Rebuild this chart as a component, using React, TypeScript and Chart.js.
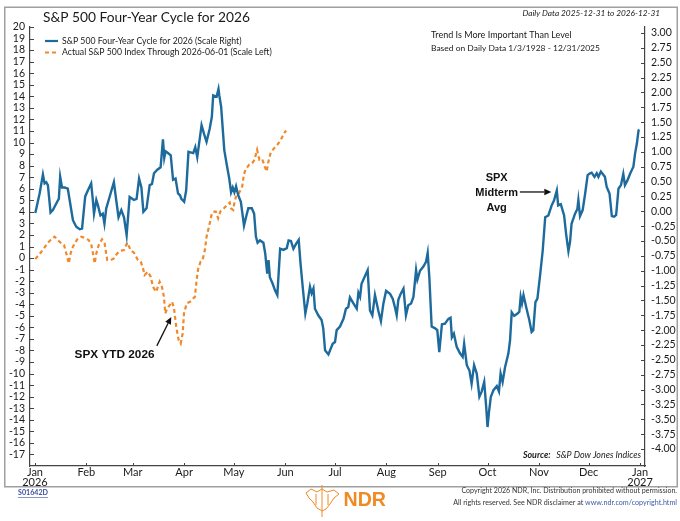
import React, { useEffect, useRef } from 'react';
import { Chart, registerables } from 'chart.js';

Chart.register(...registerables);

// ---------------- data ----------------
// day of year 2026 (0 = Jan 1) for the four-year cycle (right scale)
const cycleDays = [
  0.2, 2.8, 4.8, 5.8, 6.8, 7.8, 9.4, 10.8, 13.4, 14.4, 15.2, 16.3, 17.9, 19.8, 22.9, 24.9, 27.0, 28.4, 30.3, 31.9,
  33.9, 34.9, 35.6, 37.0, 38.0, 39.5, 40.9, 41.9, 43.0, 45.0, 47.6, 49.0, 50.4, 52.1, 53.7, 55.3, 57.1, 59.7, 61.3, 62.8,
  64.2, 65.4, 67.3, 69.2, 70.6, 71.8, 73.8, 75.8, 77.2, 78.0, 78.8, 80.2, 81.9, 83.3, 84.8, 86.3, 87.5, 88.3, 90.0, 91.2,
  92.6, 95.5, 96.7, 97.9, 100.5, 101.9, 103.5, 105.4, 106.7, 107.5, 109.6, 110.7, 111.2, 112.3, 114.2, 115.6, 117.2, 118.3, 119.3, 120.3,
  121.3, 122.6, 124.2, 126.1, 127.3, 128.7, 130.8, 132.2, 133.3, 134.3, 135.7, 137.8, 138.9, 140.1, 140.9, 141.7, 143.4, 144.8, 146.2, 147.9,
  149.9, 151.9, 153.0, 154.4, 155.9, 157.5, 159.1, 160.2, 161.5, 163.1, 164.3, 165.9, 166.9, 168.0, 168.9, 170.9, 172.9, 173.9, 175.0, 177.0,
  179.6, 181.0, 182.0, 184.0, 186.1, 187.6, 189.0, 190.0, 192.1, 194.1, 195.1, 196.1, 197.0, 199.1, 200.7, 202.1, 203.5, 205.1, 207.1, 208.7,
  210.2, 211.8, 214.2, 215.8, 217.2, 218.2, 219.2, 220.6, 222.3, 223.8, 225.2, 226.9, 228.3, 229.9, 230.7, 232.3, 234.3, 235.9, 236.9, 237.9,
  239.3, 241.4, 242.7, 243.9, 245.5, 247.3, 249.4, 250.7, 251.5, 252.7, 254.4, 256.4, 258.0, 258.9, 260.5, 262.1, 263.4, 264.9, 266.5, 268.1,
  269.5, 271.0, 272.2, 273.0, 273.8, 275.0, 276.6, 278.6, 279.9, 280.9, 282.1, 283.6, 285.6, 286.6, 287.6, 289.1, 291.1, 292.2, 293.0, 293.8,
  294.7, 296.3, 298.2, 299.6, 300.6, 301.9, 303.1, 304.7, 306.3, 307.8, 309.7, 311.7, 313.1, 314.8, 315.6, 317.2, 319.2, 320.4, 321.8, 322.8,
  323.7, 325.8, 327.2, 327.8, 328.8, 330.4, 331.9, 333.4, 334.8, 335.8, 337.5, 338.9, 339.9, 341.4, 343.8, 344.9, 346.6, 348.0, 349.4, 350.6,
  352.0, 353.5, 354.9, 355.9, 357.4, 359.0, 361.0, 362.0, 363.1, 364.1, 364.7,
];
const cycleValues = [
  -0.03, 0.30, 0.62, 0.47, 0.49, 0.44, -0.02, 0.02, 0.16, 0.21, 0.58, 0.40, 0.40, 0.38, -0.15, -0.26, -0.30, -0.29, 0.25, 0.35,
  0.47, 0.19, -0.04, 0.19, 0.10, -0.07, -0.04, -0.21, 0.05, 0.24, 0.49, 0.19, -0.10, 0.02, -0.10, -0.40, 0.24, 0.19, 0.21, 0.55,
  0.40, -0.01, 0.05, 0.44, 0.46, 0.64, 0.70, 0.74, 1.21, 0.90, 1.01, 0.98, 0.94, 0.53, 0.55, 0.30, 0.27, 0.21, 0.16, 0.35,
  1.00, 0.98, 1.08, 0.91, 1.45, 1.31, 1.17, 1.39, 1.59, 1.95, 1.93, 2.06, 1.95, 1.76, 1.03, 0.80, 0.55, 0.32, 0.40, 0.32,
  0.42, 0.27, 0.16, -0.24, -0.10, 0.05, 0.05, -0.04, -0.43, -0.53, -0.49, -0.53, -0.71, -1.05, -0.82, -1.11, -1.22, -1.33, -1.41, -0.63,
  -0.65, -0.62, -0.49, -0.50, -0.63, -0.55, -0.48, -0.88, -1.27, -1.72, -1.55, -1.27, -1.38, -1.30, -1.64, -1.75, -1.83, -1.97, -2.34, -2.41,
  -2.23, -2.20, -2.00, -1.94, -1.81, -1.64, -1.61, -1.45, -1.55, -1.64, -1.37, -1.44, -1.22, -1.09, -0.99, -1.67, -1.75, -1.41, -1.67, -1.85,
  -1.55, -1.34, -1.39, -1.47, -1.62, -1.75, -1.49, -1.39, -1.30, -1.75, -1.58, -1.55, -1.44, -0.99, -1.15, -1.00, -0.93, -0.85, -0.70, -1.11,
  -1.94, -1.97, -2.00, -2.37, -1.90, -1.89, -1.81, -1.79, -2.12, -2.06, -2.28, -2.39, -2.45, -2.23, -2.59, -2.68, -2.90, -2.59, -2.73, -3.12,
  -3.03, -2.87, -3.29, -3.63, -3.40, -3.12, -3.01, -2.94, -3.03, -2.73, -2.87, -2.62, -2.39, -2.17, -1.70, -1.76, -1.72, -1.69, -1.44, -1.55,
  -1.41, -1.61, -1.83, -2.03, -2.00, -1.53, -1.47, -1.08, -0.66, -0.10, -0.07, 0.10, 0.18, 0.35, 0.10, 0.12, -0.07, -0.38, -0.67, -0.51,
  -0.21, -0.04, 0.04, 0.19, -0.08, 0.02, 0.30, 0.61, 0.64, 0.65, 0.58, 0.64, 0.58, 0.67, 0.58, 0.41, 0.30, -0.08, -0.09, -0.06,
  0.38, 0.44, 0.63, 0.44, 0.52, 0.63, 0.75, 0.97, 1.14, 1.36, 1.37,
];

// actual S&P 500 YTD % (left scale)
const ytdDays = [
  0.2, 2.8, 5.4, 7.4, 9.4, 11.8, 13.8, 15.9, 17.5, 18.9, 20.4, 21.5, 22.9, 25.5, 28.0, 30.3, 32.4, 34.0, 35.0, 36.0,
  37.0, 38.5, 40.4, 42.0, 43.6, 45.7, 47.6, 49.6, 51.7, 53.7, 55.7, 57.7, 59.7, 62.1, 63.8, 65.2, 66.1, 68.1, 69.8, 71.2,
  73.1, 75.2, 76.6, 77.8, 78.6, 79.8, 81.3, 82.7, 83.9, 85.2, 86.7, 87.9, 89.1, 89.9, 91.5, 93.5, 96.5, 97.5, 98.5, 99.9,
  101.1, 102.5, 103.5, 105.0, 106.5, 107.5, 109.1, 110.5, 111.9, 114.0, 116.0, 117.5, 118.3, 119.6, 120.4, 121.6, 123.0, 125.0, 126.0, 126.9,
  129.1, 131.1, 132.4, 134.0, 135.4, 137.1, 138.6, 139.8, 140.6, 142.2, 144.3, 146.2, 148.3, 150.3, 151.5,
];
const ytdValues = [
  -0.09, 0.35, 0.84, 1.27, 1.56, 1.85, 1.56, 1.27, 1.13, 0.40, -0.46, 0.40, 0.98, 1.62, 1.85, 1.71, 1.56, 1.13, 0.40, -0.46,
  0.40, 1.13, 1.62, 1.27, -0.17, -0.17, -0.03, 0.40, 0.64, 0.69, 1.33, 0.69, 0.46, -0.17, -0.32, -0.90, -1.47, -1.18, -1.62, -2.49,
  -2.92, -2.05, -2.49, -3.35, -4.80, -4.36, -4.08, -3.79, -4.36, -5.96, -7.11, -7.40, -6.53, -4.80, -3.93, -3.79, -3.35, -1.91, -0.90, -0.32,
  -0.17, 0.69, 1.85, 2.72, 3.73, 4.02, 4.02, 3.44, 4.05, 4.31, 4.60, 4.80, 4.31, 4.16, 4.88, 5.46, 5.61, 6.18, 7.20, 7.63,
  8.07, 8.21, 8.50, 9.37, 8.50, 8.56, 7.92, 7.49, 8.21, 9.13, 9.51, 9.80, 10.23, 10.81, 11.04,
];

// axis ticks
const monthTicks = [0, 31, 59, 90, 120, 151, 181, 212, 243, 273, 304, 334, 365];
const monthLabels: (string | string[])[] = [
  ['Jan', '2026'], 'Feb', 'Mar', 'Apr', 'May', 'Jun', 'Jul', 'Aug', 'Sep', 'Oct', 'Nov', 'Dec', ['Jan', '2027'],
];
const leftTicks = [
  20, 19, 18, 17, 16, 15, 14, 13, 12, 11, 10, 9, 8, 7, 6, 5, 4, 3, 2, 1, 0,
  -1, -2, -3, -4, -5, -6, -7, -8, -9, -10, -11, -12, -13, -14, -15, -16, -17,
];
const rightTicks = [
  3, 2.75, 2.5, 2.25, 2, 1.75, 1.5, 1.25, 1, 0.75, 0.5, 0.25, 0,
  -0.25, -0.5, -0.75, -1, -1.25, -1.5, -1.75, -2, -2.25, -2.5, -2.75, -3, -3.25, -3.5, -3.75, -4,
];

const seriesLabels = [
  'S&P 500 Four-Year Cycle for 2026 (Scale Right)',
  'Actual S&P 500 Index Through 2026-06-01 (Scale Left)',
];

// ---------------- style ----------------
const BLUE = '#1d6a9d';
const ORANGE = '#f0892b';
const AXIS = '#444';
const TXT = '#1a1a1a';
const FONT = 'Lato, "Noto Sans", sans-serif';
const BOLD = '"Liberation Sans", Arial, sans-serif';

// draw text scaled so that it spans the given width
function fitText(
  ctx: CanvasRenderingContext2D,
  text: string,
  x: number,
  y: number,
  width: number,
  style: string,
  family: string,
  align: CanvasTextAlign = 'left',
) {
  ctx.font = `${style} 20px ${family}`;
  const w = ctx.measureText(text).width;
  const size = (20 * width) / w;
  ctx.font = `${style} ${size}px ${family}`;
  ctx.textAlign = align;
  ctx.fillText(text, x, y);
  return size;
}

function arrow(ctx: CanvasRenderingContext2D, x1: number, y1: number, x2: number, y2: number) {
  const ang = Math.atan2(y2 - y1, x2 - x1);
  const hl = 7, hw = 3.2;
  const bx = x2 - hl * Math.cos(ang), by = y2 - hl * Math.sin(ang);
  ctx.beginPath();
  ctx.moveTo(x1, y1);
  ctx.lineTo(bx, by);
  ctx.lineWidth = 1.3;
  ctx.strokeStyle = '#111';
  ctx.stroke();
  ctx.beginPath();
  ctx.moveTo(x2, y2);
  ctx.lineTo(bx + hw * Math.sin(ang), by - hw * Math.cos(ang));
  ctx.lineTo(bx - hw * Math.sin(ang), by + hw * Math.cos(ang));
  ctx.closePath();
  ctx.fillStyle = '#111';
  ctx.fill();
}

const decoPlugin = {
  id: 'deco',
  beforeDraw(chart: any) {
    const ctx = chart.ctx;
    ctx.save();
    ctx.fillStyle = '#fff';
    ctx.fillRect(0, 0, chart.width, chart.height);
    ctx.restore();
  },
  afterDraw(chart: any) {
    const { ctx, chartArea: a, scales } = chart;
    const sx = scales.x, yL = scales.yL, yR = scales.yR;
    ctx.save();

    // outer frame
    ctx.strokeStyle = '#a0a0a0';
    ctx.lineWidth = 1.5;
    ctx.strokeRect(4.75, 7.25, 672.5, 479.5);

    // inward tick marks
    ctx.strokeStyle = AXIS;
    ctx.lineWidth = 1;
    ctx.beginPath();
    yL.ticks.forEach((t: any) => {
      const y = Math.round(yL.getPixelForValue(t.value)) + 0.5;
      ctx.moveTo(a.left, y);
      ctx.lineTo(a.left + 4, y);
    });
    yR.ticks.forEach((t: any) => {
      const y = Math.round(yR.getPixelForValue(t.value)) + 0.5;
      ctx.moveTo(a.right - 4, y);
      ctx.lineTo(a.right, y);
    });
    sx.ticks.forEach((t: any) => {
      const x = Math.round(sx.getPixelForValue(t.value)) + 0.5;
      ctx.moveTo(x, a.bottom);
      ctx.lineTo(x, a.bottom - 3);
    });
    ctx.stroke();

    // title
    ctx.fillStyle = TXT;
    ctx.textBaseline = 'middle';
    fitText(ctx, 'S&P 500 Four-Year Cycle for 2026', 43, 17.5, 207, '', FONT);
    fitText(ctx, 'Daily Data 2025-12-31 to 2026-12-31', 660, 13, 138, 'italic', FONT, 'right');

    // legend
    const lx = a.left + 15;
    ctx.lineWidth = 2.2;
    ctx.strokeStyle = chart.data.datasets[0].borderColor;
    ctx.beginPath();
    ctx.moveTo(lx, a.top + 14);
    ctx.lineTo(lx + 13, a.top + 14);
    ctx.stroke();
    ctx.strokeStyle = chart.data.datasets[1].borderColor;
    ctx.setLineDash([4, 3]);
    ctx.beginPath();
    ctx.moveTo(lx, a.top + 25.5);
    ctx.lineTo(lx + 13, a.top + 25.5);
    ctx.stroke();
    ctx.setLineDash([]);
    ctx.fillStyle = TXT;
    fitText(ctx, chart.data.datasets[0].label, lx + 17, a.top + 14, 180, '', FONT);
    fitText(ctx, chart.data.datasets[1].label, lx + 17, a.top + 25.5, 210, '', FONT);

    // notes top right
    fitText(ctx, 'Trend Is More Important Than Level', 431, a.top + 8, 141, '', FONT);
    fitText(ctx, 'Based on Daily Data 1/3/1928 - 12/31/2025', 431, a.top + 21, 169, '', FONT);

    // annotation: SPX YTD 2026
    ctx.fillStyle = '#111';
    fitText(ctx, 'SPX YTD 2026', sx.getPixelForValue(48), yL.getPixelForValue(-8.4), 80, 'bold', BOLD, 'center');
    arrow(ctx, sx.getPixelForValue(73.5), yL.getPixelForValue(-7.6), sx.getPixelForValue(82.2), yL.getPixelForValue(-5.1));

    // annotation: SPX Midterm Avg
    ctx.font = `bold 11px ${BOLD}`;
    ctx.textAlign = 'center';
    ctx.fillStyle = '#111';
    const mx = sx.getPixelForValue(278.5);
    ctx.fillText('SPX', mx, yR.getPixelForValue(0.555));
    ctx.fillText('Midterm', mx, yR.getPixelForValue(0.30));
    ctx.fillText('Avg', mx, yR.getPixelForValue(0.05));
    arrow(ctx, sx.getPixelForValue(292.5), yR.getPixelForValue(0.325), sx.getPixelForValue(311.5), yR.getPixelForValue(0.325));

    // source
    ctx.fillStyle = TXT;
    const srcRight = a.right - 4;
    const srcY = a.bottom - 11;
    const ss = fitText(ctx, 'S&P Dow Jones Indices', srcRight, srcY, 85, 'italic', FONT, 'right');
    ctx.font = `italic bold ${ss}px ${FONT}`;
    ctx.fillText('Source:', srcRight - 85 - 5.5, srcY);

    // footer
    ctx.fillStyle = '#3b4ea3';
    fitText(ctx, 'S01642D', 18, 493, 30, 'bold', FONT);
    ctx.fillRect(18, 497, 30, 0.6);

    ctx.fillStyle = '#333';
    fitText(ctx, 'Copyright 2026 NDR, Inc. Distribution prohibited without permission.', 677, 490.5, 216, '', FONT, 'right');
    const line2a = 'All rights reserved. See NDR disclaimer at ';
    const url = 'www.ndr.com/copyright.html';
    ctx.font = `20px ${FONT}`;
    const fs2 = (20 * 224) / ctx.measureText(line2a + url).width;
    ctx.font = `${fs2}px ${FONT}`;
    ctx.textAlign = 'right';
    ctx.fillStyle = '#3b5ba5';
    ctx.fillText(url, 677, 503);
    const uw = ctx.measureText(url).width;
    ctx.fillStyle = '#333';
    ctx.fillText(line2a, 677 - uw, 503);

    // NDR logo
    ctx.strokeStyle = '#f08a24';
    ctx.fillStyle = '#f08a24';
    ctx.lineWidth = 1;
    ctx.beginPath();
    ctx.moveTo(322, 485);
    ctx.lineTo(322, 517);
    ctx.moveTo(306, 493);
    ctx.lineTo(311, 489);
    ctx.lineTo(317, 492);
    ctx.lineTo(322, 489);
    ctx.lineTo(327, 492);
    ctx.lineTo(334, 490);
    ctx.lineTo(339, 494);
    ctx.lineTo(334, 498);
    ctx.lineTo(330, 504);
    ctx.lineTo(326, 509);
    ctx.lineTo(322, 511);
    ctx.lineTo(317, 508);
    ctx.lineTo(313, 502);
    ctx.lineTo(309, 498);
    ctx.closePath();
    ctx.moveTo(316, 494);
    ctx.lineTo(316, 505);
    ctx.moveTo(328, 494);
    ctx.lineTo(328, 505);
    ctx.stroke();
    fitText(ctx, 'NDR', 343.5, 501, 42.5, 'bold', BOLD);

    ctx.restore();
  },
};

export default function App() {
  const ref = useRef<HTMLCanvasElement | null>(null);

  useEffect(() => {
    if (!ref.current) return;
    const tickFont = { family: FONT, size: 10.5 };
    const chart = new Chart(ref.current, {
      type: 'line',
      data: {
        datasets: [
          {
            label: seriesLabels[0],
            data: cycleDays.map((d, i) => ({ x: d, y: cycleValues[i] })),
            yAxisID: 'yR',
            borderColor: BLUE,
            borderWidth: 2.4,
            pointRadius: 0,
            tension: 0,
            fill: false,
          },
          {
            label: seriesLabels[1],
            data: ytdDays.map((d, i) => ({ x: d, y: ytdValues[i] })),
            yAxisID: 'yL',
            borderColor: ORANGE,
            borderWidth: 2.2,
            borderDash: [4, 3],
            pointRadius: 0,
            tension: 0,
            fill: false,
          },
        ],
      },
      options: {
        responsive: false,
        animation: false,
        events: [],
        layout: { padding: { top: 27, left: 0, right: 0, bottom: 0 } },
        plugins: { legend: { display: false }, tooltip: { enabled: false } },
        scales: {
          x: {
            type: 'linear',
            min: -3,
            max: 368,
            afterBuildTicks: (s: any) => {
              s.ticks = monthTicks.map((v) => ({ value: v }));
            },
            afterFit: (s: any) => {
              s.height = 55;
            },
            ticks: {
              autoSkip: false,
              maxRotation: 0,
              padding: 2,
              color: TXT,
              font: { family: FONT, size: 11, lineHeight: 0.85 },
              callback: (v: any) => monthLabels[monthTicks.indexOf(Number(v))] ?? '',
            },
            grid: { drawOnChartArea: false, drawTicks: false },
            border: { display: true, color: AXIS, width: 1.2 },
          },
          yL: {
            type: 'linear',
            position: 'left',
            min: -18,
            max: 20,
            afterBuildTicks: (s: any) => {
              s.ticks = leftTicks.map((v) => ({ value: v }));
            },
            afterFit: (s: any) => {
              s.width = 30;
            },
            ticks: {
              autoSkip: false,
              padding: 5,
              color: TXT,
              font: tickFont,
              callback: (v: any) => String(v),
            },
            grid: { drawOnChartArea: false, drawTicks: false },
            border: { display: true, color: AXIS, width: 1.2 },
          },
          yR: {
            type: 'linear',
            position: 'right',
            min: -4.286,
            max: 3.101,
            afterBuildTicks: (s: any) => {
              s.ticks = rightTicks.map((v) => ({ value: v }));
            },
            afterFit: (s: any) => {
              s.width = 35;
            },
            ticks: {
              autoSkip: false,
              padding: 6,
              color: TXT,
              font: tickFont,
              callback: (v: any) => Number(v).toFixed(2),
            },
            grid: { drawOnChartArea: false, drawTicks: false },
            border: { display: true, color: AXIS, width: 1.2 },
          },
        },
      } as any,
      plugins: [decoPlugin],
    });
    return () => chart.destroy();
  }, []);

  return (
    <div style={{ position: 'fixed', left: 0, top: 0, width: 680, height: 521, background: '#fff' }}>
      <canvas ref={ref} width={680} height={521} style={{ display: 'block' }} />
    </div>
  );
}
